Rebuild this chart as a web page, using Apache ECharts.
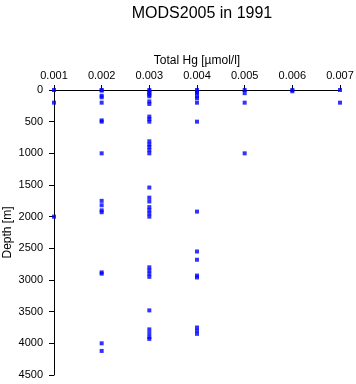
<!DOCTYPE html>
<html><head><meta charset="utf-8">
<script src="https://cdn.jsdelivr.net/npm/echarts@6/dist/echarts.min.js"></script>
<style>html,body{margin:0;padding:0;background:#fff}#c{width:356px;height:384px}</style>
</head><body><div id="c"></div>
<script>
var title = "MODS2005 in 1991";
var xName = "Total Hg [\u00b5mol/l]";
var yName = "Depth [m]";
var xTicks = [0.001, 0.002, 0.003, 0.004, 0.005, 0.006, 0.007];
var depthTicks = [0, 500, 1000, 1500, 2000, 2500, 3000, 3500, 4000, 4500];

var depthAt001 = [0, 200, 2000];
var depthAt002 = [0, 10, 90, 115, 200, 480, 500, 1000, 1750, 1820, 1900, 1930, 2880, 2900, 4000, 4120];
var depthAt003 = [0, 25, 50, 75, 100, 180, 220, 420, 460, 500, 810, 860, 900, 950, 1000, 1540, 1700, 1760, 1850, 1900, 1950, 2000, 2800, 2850, 2900, 2950, 3480, 3780, 3840, 3900, 3930];
var depthAt004 = [0, 30, 50, 100, 130, 200, 500, 1920, 2550, 2680, 2930, 2960, 3750, 3800, 3850];
var depthAt005 = [0, 50, 200, 1000];
var depthAt006 = [0, 20];
var depthAt007 = [0, 200];

var columns = [[0.001, depthAt001],[0.002, depthAt002],[0.003, depthAt003],[0.004, depthAt004],[0.005, depthAt005],[0.006, depthAt006],[0.007, depthAt007]];
var pts = [];
columns.forEach(function(c){ c[1].forEach(function(d){ pts.push([c[0], d]); }); });

var font = 'Liberation Sans, Arial, sans-serif';
var chart = echarts.init(document.getElementById('c'));
chart.setOption({
  animation: false,
  title: {text: title, left: 197, top: 1, textAlign: 'center',
    textStyle: {fontFamily: font, fontSize: 16, fontWeight: 'normal', color: '#000'}},
  grid: {left: 54, right: 16, top: 90, bottom: 9, containLabel: false, outerBoundsMode: 'none'},
  xAxis: {type: 'value', position: 'top', min: xTicks[0], max: xTicks[xTicks.length-1], interval: 0.001,
    name: xName, nameLocation: 'middle', nameGap: 23, nameMoveOverlap: false,
    nameTextStyle: {fontFamily: font, fontSize: 12, color: '#000'},
    axisLine: {onZero: false, lineStyle: {color: '#000', width: 1}},
    axisTick: {show: true, length: 5, lineStyle: {color: '#000'}},
    axisLabel: {fontFamily: font, fontSize: 11, color: '#000', margin: 9, formatter: function(v){ return v.toFixed(3); }},
    splitLine: {show: false}},
  yAxis: {type: 'value', inverse: true, min: depthTicks[0], max: depthTicks[depthTicks.length-1], interval: 500,
    name: yName, nameLocation: 'middle', nameGap: 40, nameMoveOverlap: false,
    nameTextStyle: {fontFamily: font, fontSize: 12, color: '#000'},
    axisLine: {show: true, onZero: false, lineStyle: {color: '#000', width: 1}},
    axisTick: {show: true, length: 5, lineStyle: {color: '#000'}},
    axisLabel: {fontFamily: font, fontSize: 11, color: '#000', margin: 11, formatter: function(v){ return String(v); }},
    splitLine: {show: false}},
  series: [{type: 'scatter', data: pts, symbol: 'rect', symbolSize: 4,
    itemStyle: {color: '#0000ff'}, clip: false}]
});
</script></body></html>
